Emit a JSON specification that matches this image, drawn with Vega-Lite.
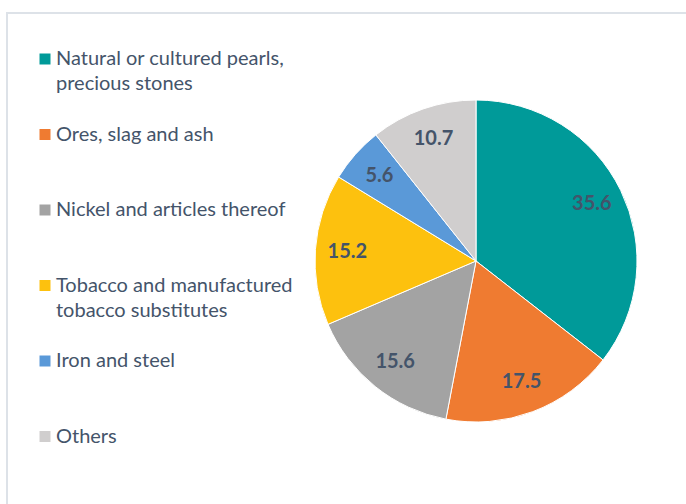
{
  "$schema": "https://vega.github.io/schema/vega-lite/v6.json",
  "width": 938,
  "height": 496,
  "autosize": {"type": "none"},
  "padding": {"left": 7, "top": 13, "right": 0, "bottom": 0},
  "background": "white",
  "view": {"stroke": "#dde2e8", "strokeWidth": 2, "fill": "white"},
  "config": {
    "view": {"stroke": "#dde2e8", "strokeWidth": 2},
    "style": {"guide-label": {"lineHeight": 25}}
  },
  "data": {
    "values": [
      {"idx": 1, "category": "Natural or cultured pearls, precious stones", "value": 35.6},
      {"idx": 2, "category": "Ores, slag and ash", "value": 17.5},
      {"idx": 3, "category": "Nickel and articles thereof", "value": 15.6},
      {"idx": 4, "category": "Tobacco and manufactured tobacco substitutes", "value": 15.2},
      {"idx": 5, "category": "Iron and steel", "value": 5.6},
      {"idx": 6, "category": "Others", "value": 10.7}
    ]
  },
  "encoding": {
    "theta": {"field": "value", "type": "quantitative", "stack": true},
    "order": {"field": "idx", "type": "quantitative"}
  },
  "layer": [
    {
      "mark": {"type": "arc", "outerRadius": 161, "stroke": "white", "strokeWidth": 1},
      "encoding": {
        "color": {
          "field": "category",
          "type": "nominal",
          "sort": null,
          "scale": {
            "domain": ["Natural or cultured pearls, precious stones", "Ores, slag and ash", "Nickel and articles thereof", "Tobacco and manufactured tobacco substitutes", "Iron and steel", "Others"],
            "range": ["#009A99", "#EF7B31", "#A3A3A3", "#FDC10E", "#5A99D8", "#D0CECE"]
          },
          "legend": {
            "title": null,
            "orient": "none",
            "legendX": 28,
            "legendY": 36,
            "symbolType": "square",
            "symbolSize": 121,
            "symbolStrokeWidth": 0,
            "labelFont": "Lato",
            "labelFontSize": 20,
            "labelColor": "#44546A",
            "labelLimit": 400,
            "labelOffset": 1,
            "rowPadding": 30.5,
            "labelExpr": "datum.label == 'Natural or cultured pearls, precious stones' ? ['Natural or cultured pearls,', 'precious stones'] : datum.label == 'Tobacco and manufactured tobacco substitutes' ? ['Tobacco and manufactured', 'tobacco substitutes'] : [datum.label, '']"
          }
        }
      }
    },
    {
      "mark": {"type": "text", "radius": 129, "font": "Lato", "fontWeight": "bold", "fontSize": 20, "fill": "#44546A"},
      "encoding": {
        "text": {"field": "value", "type": "quantitative", "format": ".1f"}
      }
    }
  ]
}
